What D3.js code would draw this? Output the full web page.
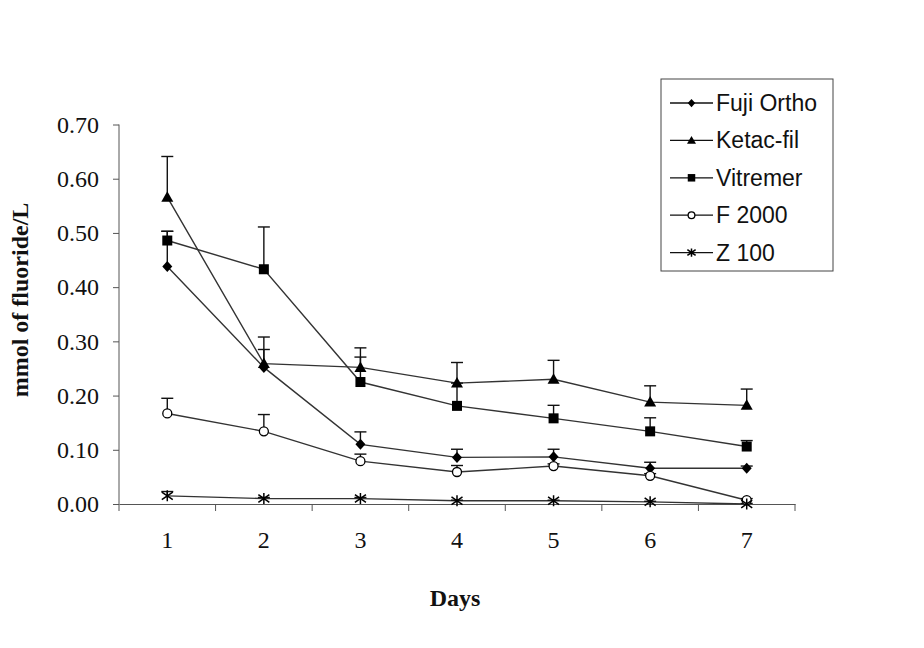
<!DOCTYPE html>
<html>
<head>
<meta charset="utf-8">
<script src="https://cdn.jsdelivr.net/npm/d3@7"></script>
<style>
  body { margin: 0; background: #fff; }
  svg { display: block; }
</style>
</head>
<body>
<svg id="chart" width="924" height="648"></svg>
<script>
// Values
const days = ["1", "2", "3", "4", "5", "6", "7"];
const seriesNames = ["Fuji Ortho", "Ketac-fil", "Vitremer", "F 2000", "Z 100"];
const fujiOrtho = [0.438, 0.252, 0.110, 0.086, 0.087, 0.066, 0.066];
const ketacFil  = [0.566, 0.259, 0.252, 0.223, 0.230, 0.188, 0.182];
const vitremer  = [0.486, 0.433, 0.225, 0.181, 0.158, 0.134, 0.106];
const f2000     = [0.167, 0.134, 0.079, 0.059, 0.070, 0.052, 0.007];
const z100      = [0.015, 0.010, 0.010, 0.006, 0.006, 0.004, 0.000];
// upper error bars
const fujiErr     = [0.065, 0.033, 0.023, 0.015, 0.014, 0.011, 0.004];
const ketacErr    = [0.075, 0.049, 0.036, 0.038, 0.035, 0.030, 0.030];
const vitremerErr = [0.017, 0.078, 0.046, 0.042, 0.024, 0.025, 0.011];
const f2000Err    = [0.028, 0.031, 0.013, 0.012, 0.004, 0.004, 0.003];
const z100Err     = [0.008, 0.002, 0.002, 0.001, 0.001, 0.001, 0.001];
const yTicks = [0, 0.1, 0.2, 0.3, 0.4, 0.5, 0.6, 0.7];

const series = [
  { name: seriesNames[0], values: fujiOrtho, err: fujiErr, marker: "diamond" },
  { name: seriesNames[1], values: ketacFil, err: ketacErr, marker: "triangle" },
  { name: seriesNames[2], values: vitremer, err: vitremerErr, marker: "square" },
  { name: seriesNames[3], values: f2000, err: f2000Err, marker: "circle" },
  { name: seriesNames[4], values: z100, err: z100Err, marker: "star" }
];

const svg = d3.select("#chart");
const serif = "'Liberation Serif', 'Times New Roman', serif";
const lineColor = "#333";

const x = d3.scaleBand().domain(days).range([119, 795]).paddingInner(0).paddingOuter(0);
const y = d3.scaleLinear().domain([0, 0.7]).range([504, 124.5]);
const cx = d => x(d) + x.bandwidth() / 2;

// y axis
const yAxis = svg.append("g")
  .attr("transform", "translate(119,0)")
  .call(d3.axisLeft(y).tickValues(yTicks).tickFormat(d3.format(".2f")).tickSize(6).tickPadding(14));
yAxis.select(".domain").attr("stroke", "#555").attr("d", `M0,${y(0.7)}V${y(0)}`).attr("fill", "none");
yAxis.selectAll(".tick line").attr("stroke", "#555");
yAxis.selectAll("text")
  .attr("font-family", serif)
  .attr("font-size", 24).attr("fill", "#111");

// x axis: labels at centres, ticks at band edges
const xAxis = svg.append("g")
  .attr("transform", "translate(0,504)")
  .call(d3.axisBottom(x).tickSize(0).tickPadding(27));
xAxis.select(".domain").attr("stroke", "#555");
xAxis.selectAll("text")
  .attr("font-family", serif)
  .attr("font-size", 24).attr("fill", "#111");
const edges = days.map(d => x(d)).concat([x.range()[1]]);
xAxis.selectAll(".edge").data(edges).enter().append("line")
  .attr("class", "edge")
  .attr("x1", d => d).attr("x2", d => d)
  .attr("y1", 0).attr("y2", 7)
  .attr("stroke", "#555");

// axis titles
svg.append("text")
  .attr("transform", "translate(28,300) rotate(-90)")
  .attr("text-anchor", "middle")
  .attr("font-family", serif)
  .attr("font-weight", "bold").attr("font-size", 24).attr("fill", "#111")
  .text("mmol of fluoride/L");
svg.append("text")
  .attr("x", 455).attr("y", 606)
  .attr("text-anchor", "middle")
  .attr("font-family", serif)
  .attr("font-weight", "bold").attr("font-size", 24).attr("fill", "#111")
  .text("Days");

function drawMarker(g, type, px, py, scale) {
  const s = scale || 1;
  if (type === "diamond") {
    g.append("path").attr("d", `M${px},${py - 5.5 * s}L${px + 5 * s},${py}L${px},${py + 5.5 * s}L${px - 5 * s},${py}Z`).attr("fill", "#000");
  } else if (type === "triangle") {
    g.append("path").attr("d", `M${px},${py - 6 * s}L${px + 6 * s},${py + 4.5 * s}L${px - 6 * s},${py + 4.5 * s}Z`).attr("fill", "#000");
  } else if (type === "square") {
    g.append("rect").attr("x", px - 5 * s).attr("y", py - 5 * s).attr("width", 10 * s).attr("height", 10 * s).attr("fill", "#000");
  } else if (type === "circle") {
    g.append("circle").attr("cx", px).attr("cy", py).attr("r", 4.5 * s).attr("fill", "#fff").attr("stroke", "#000").attr("stroke-width", 1.3);
  } else if (type === "star") {
    const r = 5.5 * s;
    g.append("path")
      .attr("d", `M${px},${py - r}V${py + r}M${px - r},${py - r * 0.7}L${px + r},${py + r * 0.7}M${px - r},${py + r * 0.7}L${px + r},${py - r * 0.7}`)
      .attr("stroke", "#000").attr("stroke-width", 1.5).attr("fill", "none");
  }
}

const plot = svg.append("g");
const line = d3.line().x(d => cx(d.day)).y(d => y(d.v));

series.forEach(s => {
  const pts = days.map((d, i) => ({ day: d, v: s.values[i], e: s.err[i] }));
  plot.append("path").datum(pts)
    .attr("d", line)
    .attr("fill", "none")
    .attr("stroke", lineColor)
    .attr("stroke-width", 1.4);
  s.pts = pts;
});

// error bars (upper only)
series.forEach(s => {
  const g = plot.append("g").attr("stroke", "#111").attr("stroke-width", 1.4);
  s.pts.forEach(p => {
    if (p.e <= 0) return;
    g.append("line").attr("x1", cx(p.day)).attr("x2", cx(p.day))
      .attr("y1", y(p.v)).attr("y2", y(p.v + p.e));
    g.append("line").attr("x1", cx(p.day) - 6).attr("x2", cx(p.day) + 6)
      .attr("y1", y(p.v + p.e)).attr("y2", y(p.v + p.e));
  });
});

series.forEach(s => {
  const g = plot.append("g");
  s.pts.forEach(p => drawMarker(g, s.marker, cx(p.day), y(p.v)));
});

// legend
const legend = svg.append("g");
legend.append("rect")
  .attr("x", 661).attr("y", 79).attr("width", 172).attr("height", 192)
  .attr("fill", "#fff").attr("stroke", "#444").attr("stroke-width", 1);
series.forEach((s, i) => {
  const ly = 103 + i * 37.4;
  const g = legend.append("g");
  g.append("line").attr("x1", 670).attr("x2", 713).attr("y1", ly).attr("y2", ly)
    .attr("stroke", "#111").attr("stroke-width", 1.3);
  drawMarker(g, s.marker, 691.5, ly, 0.75);
  g.append("text")
    .attr("x", 716).attr("y", ly).attr("dy", "0.35em")
    .attr("font-family", "'Liberation Sans', Arial, sans-serif")
    .attr("font-size", 23).attr("fill", "#111")
    .text(s.name);
});
</script>
</body>
</html>
